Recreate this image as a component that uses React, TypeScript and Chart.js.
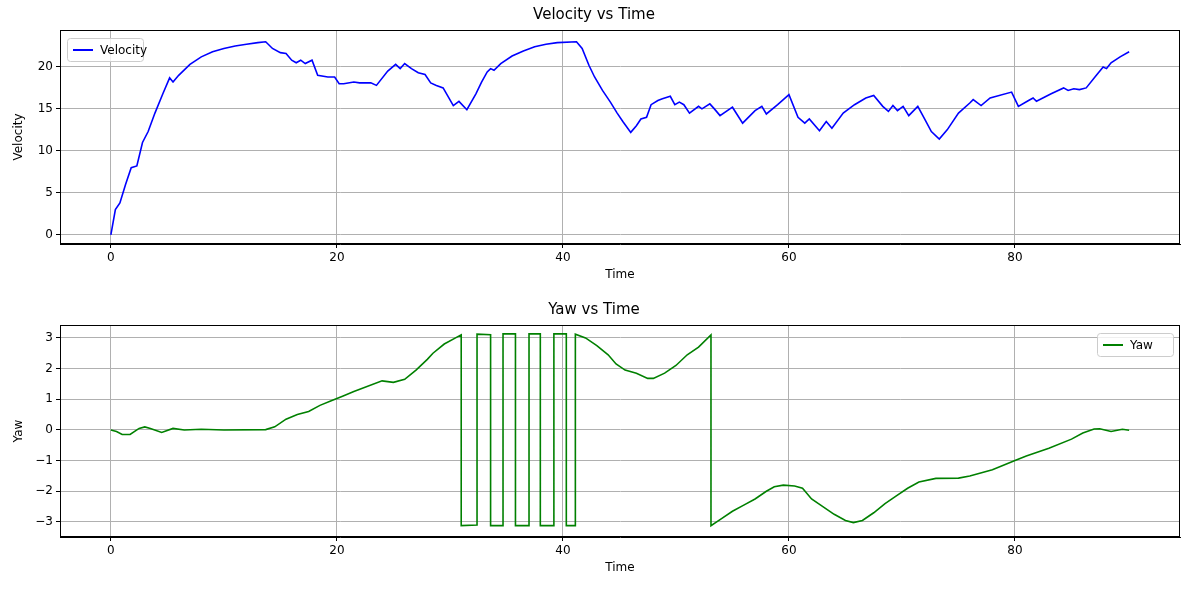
import { useEffect, useRef } from 'react'
import { Chart, registerables } from 'chart.js'

Chart.register(...registerables)

const velTime = [0, 0.4, 0.8, 1.3, 1.8, 2.3, 2.8, 3.3, 3.9, 4.6, 5.2, 5.5, 6, 7, 8, 9, 10, 11, 12, 13, 13.7, 14.3, 15, 15.5, 16, 16.4, 16.8, 17.2, 17.8, 18.3, 19.2, 19.8, 20.2, 20.6, 21.5, 22, 23, 23.5, 24.5, 25.2, 25.6, 26, 26.6, 27.2, 27.8, 28.3, 28.8, 29.4, 30.3, 30.8, 31.5, 32.3, 32.8, 33.3, 33.6, 33.9, 34.5, 35.5, 36.5, 37.5, 38.5, 39.5, 41.2, 41.7, 42.3, 42.8, 43.5, 44.2, 44.8, 45.3, 46, 46.5, 46.9, 47.4, 47.8, 48.4, 48.8, 49.5, 49.9, 50.3, 50.7, 51.2, 52, 52.3, 53, 53.4, 53.9, 55, 55.9, 57, 57.6, 58, 59, 60, 60.8, 61.4, 61.8, 62.7, 63.3, 63.8, 64.8, 65.8, 66.8, 67.5, 68.3, 68.8, 69.2, 69.6, 70.1, 70.6, 71.4, 72, 72.6, 73.3, 74, 75, 76, 76.3, 77, 77.8, 79.7, 80.3, 81.2, 81.6, 81.9, 83.2, 84.3, 84.7, 85.2, 85.7, 86.3, 87.2, 87.8, 88.1, 88.5, 89.3, 90.1]
const velocity = [0, 3, 3.8, 6, 8, 8.2, 11, 12.3, 14.5, 16.8, 18.7, 18.2, 19, 20.3, 21.2, 21.8, 22.2, 22.5, 22.7, 22.9, 23, 22.2, 21.7, 21.6, 20.8, 20.5, 20.8, 20.4, 20.8, 19, 18.8, 18.8, 18, 18, 18.2, 18.1, 18.1, 17.8, 19.5, 20.3, 19.8, 20.4, 19.8, 19.3, 19.1, 18.1, 17.8, 17.5, 15.4, 15.9, 14.9, 16.8, 18.2, 19.4, 19.8, 19.6, 20.4, 21.3, 21.9, 22.4, 22.7, 22.9, 23, 22.2, 20.2, 18.8, 17.2, 15.8, 14.5, 13.5, 12.2, 13, 13.8, 14, 15.5, 16, 16.2, 16.5, 15.5, 15.8, 15.5, 14.5, 15.3, 15, 15.6, 15, 14.2, 15.2, 13.3, 14.8, 15.3, 14.4, 15.5, 16.7, 14, 13.3, 13.8, 12.4, 13.5, 12.7, 14.5, 15.5, 16.3, 16.6, 15.3, 14.7, 15.4, 14.8, 15.3, 14.2, 15.3, 13.8, 12.3, 11.4, 12.5, 14.5, 15.7, 16.1, 15.4, 16.3, 17, 15.3, 16, 16.3, 15.9, 16.8, 17.5, 17.2, 17.4, 17.3, 17.5, 19, 20, 19.8, 20.5, 21.2, 21.8, 22.2]

const yawTime = [0, 0.5, 1, 1.7, 2.5, 3, 3.5, 4.5, 5.5, 6.5, 8, 10, 13.7, 14.5, 15.5, 16.5, 17.5, 18.5, 19.5, 20.5, 21.5, 24, 25, 26, 27, 28, 28.5, 29.5, 30.5, 31, 31, 32.4, 32.4, 33.6, 33.6, 34.7, 34.7, 35.8, 35.8, 37, 37, 38, 38, 39.2, 39.2, 40.3, 40.3, 41.1, 41.1, 42, 43, 44, 44.7, 45.5, 46.5, 47.5, 48, 49, 50, 51, 52, 53.1, 53.1, 54, 55, 56, 57, 58, 58.7, 59.5, 60.5, 61.2, 62, 63, 64, 65, 65.7, 66.5, 67.5, 68.5, 69.5, 70.5, 71.5, 73, 75, 76, 78, 80, 81, 83, 85, 86, 87, 87.5, 88.5, 89.5, 90.1]
const yaw = [0, -0.05, -0.15, -0.15, 0.05, 0.1, 0.05, -0.08, 0.05, 0, 0.02, 0, 0.01, 0.1, 0.35, 0.5, 0.6, 0.8, 0.95, 1.1, 1.25, 1.6, 1.55, 1.65, 1.95, 2.3, 2.5, 2.8, 3.0, 3.1, -3.12, -3.1, 3.12, 3.1, -3.12, -3.12, 3.13, 3.13, -3.12, -3.12, 3.13, 3.13, -3.12, -3.12, 3.13, 3.13, -3.12, -3.12, 3.12, 3.0, 2.75, 2.45, 2.15, 1.95, 1.85, 1.68, 1.68, 1.85, 2.1, 2.45, 2.7, 3.1, -3.12, -2.9, -2.65, -2.45, -2.25, -2.0, -1.85, -1.8, -1.83, -1.9, -2.25, -2.5, -2.75, -2.95, -3.02, -2.95, -2.7, -2.4, -2.15, -1.9, -1.7, -1.58, -1.57, -1.5, -1.3, -1.0, -0.85, -0.6, -0.3, -0.1, 0.03, 0.04, -0.05, 0.02, -0.01]

const xTicks = [0, 20, 40, 60, 80]
const velTicks = [0, 5, 10, 15, 20]
const yawTicks = [-3, -2, -1, 0, 1, 2, 3]

const FONT = 'DejaVu Sans'

const legendBox = {
  id: 'legendBox',
  afterDraw(chart: any, _args: any, opts: any) {
    const { ctx, chartArea } = chart
    // full axes frame like matplotlib
    ctx.save()
    ctx.strokeStyle = '#000'
    ctx.lineWidth = 1
    ctx.strokeRect(chartArea.left + 0.5, chartArea.top + 0.5, chartArea.right - chartArea.left - 1, chartArea.bottom - chartArea.top - 1)
    const w = 76, h = 23
    const x = opts.side === 'left' ? chartArea.left + 7 : chartArea.right - 7 - w
    const y = chartArea.top + 8
    ctx.fillStyle = 'rgba(255,255,255,0.8)'
    ctx.strokeStyle = '#cccccc'
    ctx.beginPath()
    ctx.roundRect(x + 0.5, y + 0.5, w, h, 3)
    ctx.fill()
    ctx.stroke()
    ctx.strokeStyle = opts.color
    ctx.lineWidth = 2
    ctx.beginPath()
    ctx.moveTo(x + 6, y + h / 2 + 0.5)
    ctx.lineTo(x + 26, y + h / 2 + 0.5)
    ctx.stroke()
    ctx.fillStyle = '#000'
    ctx.font = `12px ${FONT}`
    ctx.textBaseline = 'middle'
    ctx.fillText(opts.label, x + 33, y + h / 2 + 1)
    ctx.restore()
  },
}

function makeConfig(times: number[], vals: number[], label: string, color: string, yTicks: number[], yMin: number, yMax: number, side: string, bottomPad: number): any {
  const fix = (ticks: number[]) => (s: any) => { s.ticks = ticks.map((v) => ({ value: v })) }
  return {
    type: 'line',
    data: {
      datasets: [{
        label,
        data: times.map((t, i) => ({ x: t, y: vals[i] })),
        borderColor: color,
        borderWidth: 1.6,
        pointRadius: 0,
        tension: 0,
      }],
    },
    plugins: [legendBox],
    options: {
      animation: false,
      responsive: false,
      layout: { padding: { left: 8, right: 9, top: 0, bottom: bottomPad } },
      plugins: {
        legend: { display: false },
        tooltip: { enabled: false },
        title: { display: true, text: `${label} vs Time`, color: '#000', font: { family: FONT, size: 15, weight: 'normal' }, padding: { top: 6, bottom: 6 } },
        legendBox: { side, color, label },
      },
      scales: {
        x: {
          type: 'linear', min: -4.5, max: 94.6,
          afterBuildTicks: fix(xTicks),
          afterFit: (s: any) => { s.height = 42 },
          grid: { color: '#b0b0b0', tickColor: '#000', tickLength: 4 },
          border: { color: '#000' },
          ticks: { color: '#000', font: { family: FONT, size: 12 }, padding: 3 },
          title: { display: true, text: 'Time', color: '#000', font: { family: FONT, size: 12 }, padding: { top: 2 } },
        },
        y: {
          type: 'linear', min: yMin, max: yMax,
          afterBuildTicks: fix(yTicks),
          afterFit: (s: any) => { s.width = 52 },
          grid: { color: '#b0b0b0', tickColor: '#000', tickLength: 4 },
          border: { color: '#000' },
          ticks: { color: '#000', font: { family: FONT, size: 12 }, padding: 3, callback: (v: number) => String(v).replace('-', '\u2212') },
          title: { display: true, text: label, color: '#000', font: { family: FONT, size: 12 }, padding: { bottom: 4 } },
        },
      },
    },
  }
}

export default function App() {
  const topRef = useRef<HTMLCanvasElement>(null)
  const botRef = useRef<HTMLCanvasElement>(null)

  useEffect(() => {
    const a = new Chart(topRef.current!, makeConfig(velTime, velocity, 'Velocity', '#0000ff', velTicks, -1.1, 24.4, 'left', 9))
    const b = new Chart(botRef.current!, makeConfig(yawTime, yaw, 'Yaw', '#008000', yawTicks, -3.49, 3.42, 'right', 11))
    return () => { a.destroy(); b.destroy() }
  }, [])

  return (
    <div style={{ position: 'absolute', left: 0, top: 0, width: 1189, height: 590, background: '#fff' }}>
      <canvas ref={topRef} width={1189} height={295} style={{ display: 'block', width: 1189, height: 295 }} />
      <canvas ref={botRef} width={1189} height={295} style={{ display: 'block', width: 1189, height: 295 }} />
    </div>
  )
}
